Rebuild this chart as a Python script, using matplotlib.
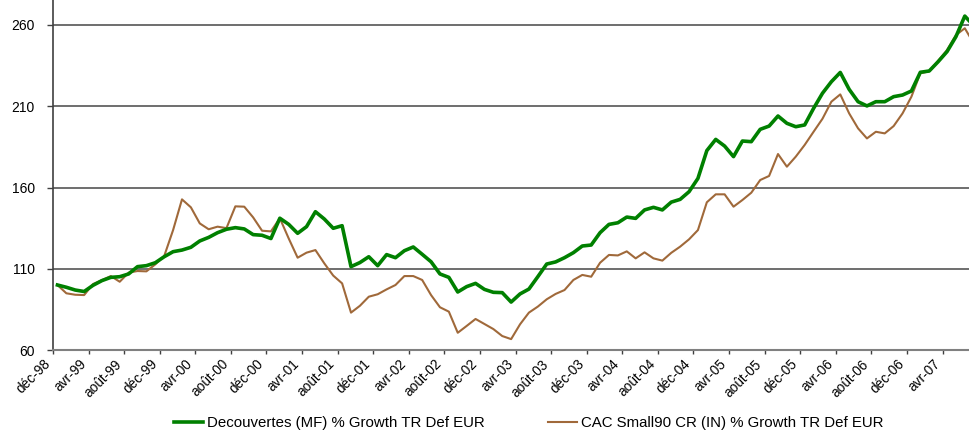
import numpy as np
import matplotlib
matplotlib.use('Agg')
import matplotlib.pyplot as plt
import matplotlib.transforms as mtransforms

plt.rcParams['font.family'] = ['Liberation Sans', 'DejaVu Sans']

# monthly values, dec-98 = 100
decouvertes = [100, 98.6, 96.9, 96.0, 99.8, 102.7, 104.7, 105.1, 106.8, 111.3,
               111.9, 113.7, 117.4, 120.5, 121.5, 123.2, 127.1, 129.3, 132.2, 134.3,
               135.3, 134.5, 131.0, 130.6, 128.6, 141.1, 137.3, 131.8, 135.9, 145.1,
               140.6, 134.9, 136.5, 111.3, 113.8, 117.4, 111.9, 118.7, 116.8, 121.1,
               123.4, 118.9, 114.3, 106.8, 104.7, 95.7, 99.0, 101.0, 97.3, 95.5,
               95.3, 89.5, 94.5, 97.5, 105.1, 112.9, 114.2, 116.8, 119.9, 124.0,
               124.6, 132.2, 137.3, 138.3, 141.8, 141.0, 146.2, 147.8, 146.2, 151.0,
               152.7, 157.4, 165.6, 182.7, 189.6, 185.5, 179.0, 188.6, 188.2, 195.8,
               197.8, 204.0, 199.5, 197.4, 198.5, 208.7, 218.0, 225.1, 230.8, 220.4,
               212.8, 210.2, 212.8, 212.8, 215.9, 216.9, 219.4, 230.9, 231.7, 237.4,
               243.6, 252.8, 265.5, 259.6]
cac_small90 = [100, 94.9, 94.0, 93.8, 100.6, 103.0, 105.5, 102.0, 107.6, 108.6,
               108.4, 112.7, 117.8, 133.8, 152.7, 147.8, 137.9, 134.3, 135.9, 135.0,
               148.4, 148.2, 141.6, 133.4, 133.0, 141.1, 128.6, 116.8, 119.9, 121.5,
               113.3, 105.8, 101.0, 83.0, 87.2, 92.8, 94.3, 97.3, 100.0, 105.5,
               105.5, 103.1, 93.8, 86.3, 83.6, 70.6, 74.8, 79.1, 76.0, 72.9,
               68.6, 66.7, 75.8, 83.0, 86.7, 91.2, 94.5, 96.9, 103.1, 106.2,
               105.1, 113.7, 118.5, 118.2, 120.7, 116.4, 120.1, 116.4, 115.0, 119.8,
               123.6, 128.1, 133.8, 150.9, 155.8, 155.8, 148.2, 152.3, 156.8, 164.6,
               167.1, 180.6, 172.8, 179.0, 186.2, 194.3, 202.3, 212.8, 217.3, 205.6,
               196.4, 190.2, 194.3, 193.3, 197.8, 205.6, 215.9, 230.3, 231.5, 238.0,
               244.6, 253.8, 258.0, 248.7]
tick_labels = ['déc-98', 'avr-99', 'août-99', 'déc-99', 'avr-00', 'août-00', 'déc-00',
               'avr-01', 'août-01', 'déc-01', 'avr-02', 'août-02', 'déc-02', 'avr-03',
               'août-03', 'déc-03', 'avr-04', 'août-04', 'déc-04', 'avr-05', 'août-05',
               'déc-05', 'avr-06', 'août-06', 'déc-06', 'avr-07']
label_green = 'Decouvertes (MF) % Growth TR Def EUR'
label_brown = 'CAC Small90 CR (IN) % Growth TR Def EUR'

x = np.arange(len(decouvertes))

fig = plt.figure(figsize=(9.7, 4.3), dpi=100)
ax = fig.add_axes([53/970, 80/430, 1 - 53/970, 1 - 80/430])

ax.plot(x, decouvertes, color='#008000', lw=2.6, label=label_green, zorder=3)
ax.plot(x, cac_small90, color='#A0693A', lw=1.5, label=label_brown, zorder=2)

ax.set_ylim(60, 260 + 25/1.625)
ax.set_xlim(-0.5, (970 - 57) / 8.9)
ax.set_yticks([60, 110, 160, 210, 260])
for yv in [110, 160, 210, 260]:
    ax.axhline(yv, color='#555555', lw=1.2, zorder=1)

ax.set_xticks(np.arange(len(tick_labels)) * 4 - 0.5)
ax.set_xticklabels(tick_labels, rotation=45, ha='right', va='top')
offset = mtransforms.ScaledTranslation(-7/100, -4/100, fig.dpi_scale_trans)
for lab in ax.get_xticklabels():
    lab.set_transform(lab.get_transform() + offset)

ax.tick_params(axis='x', labelsize=9.8, colors='black', direction='out')
ax.tick_params(axis='y', labelsize=10, colors='black', direction='out')
ax.tick_params(axis='y', length=4, width=1, color='#404040', pad=9)
ax.tick_params(axis='x', length=3, width=1, color='#404040', pad=2)

for s in ['top', 'right']:
    ax.spines[s].set_visible(False)
ax.spines['left'].set_color('#404040')
ax.spines['bottom'].set_color('#808080')
ax.spines['left'].set_linewidth(1.2)
ax.spines['bottom'].set_linewidth(1.5)

fig.legend(loc='center', bbox_to_anchor=(529/970, 7/430), ncol=2, frameon=False,
           fontsize=10.8, handlelength=1.9, handletextpad=0.3, columnspacing=4.2,
           borderpad=0)

plt.savefig('out.png', dpi=100)
plt.close()
